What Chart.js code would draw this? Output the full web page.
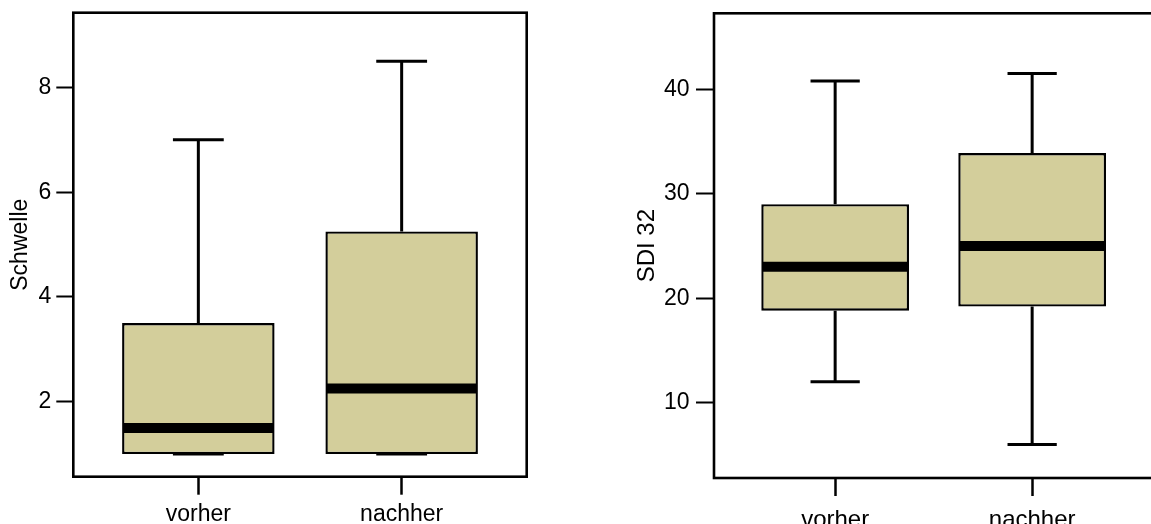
<!DOCTYPE html>
<html>
<head>
<meta charset="utf-8">
<script src="https://cdn.jsdelivr.net/npm/chart.js@4.4.0/dist/chart.umd.min.js"></script>
<style>
html,body{margin:0;padding:0;background:#fff;overflow:hidden;width:1151px;height:524px;}
canvas{position:absolute;top:0;}
#c1{left:0;}
#c2{left:590px;}
</style>
</head>
<body>
<canvas id="c1" width="576" height="524"></canvas>
<canvas id="c2" width="620" height="524"></canvas>
<script>
// ---- data ----
const categories = ['vorher', 'nachher'];

const schwelleTitle = 'Schwelle';
const schwelleMin = [1, 1];
const schwelleQ1 = [1, 1];
const schwelleMedian = [1.5, 2.25];
const schwelleQ3 = [3.5, 5.25];
const schwelleMax = [7, 8.5];
const schwelleTicks = [2, 4, 6, 8];

const sdiTitle = 'SDI 32';
const sdiMin = [12, 6];
const sdiQ1 = [18.8, 19.2];
const sdiMedian = [23, 25];
const sdiQ3 = [29, 33.9];
const sdiMax = [40.8, 41.5];
const sdiTicks = [10, 20, 30, 40];

// ---- rendering ----
const FONT = "'Liberation Sans', Arial, sans-serif";
const BOX_FILL = '#d3ce9b';

const boxPlugin = {
  id: 'boxWhiskers',
  afterDatasetsDraw(chart, args, opts) {
    const ctx = chart.ctx;
    const xs = chart.scales.x, ys = chart.scales.y;
    const meta = chart.getDatasetMeta(0);
    ctx.save();
    ctx.strokeStyle = '#000';
    opts.mins.forEach((mn, i) => {
      const cx = xs.getPixelForValue(i);
      const half = xs.getPixelForValue(i + opts.capHalf) - cx;
      const yMin = ys.getPixelForValue(mn);
      const yMax = ys.getPixelForValue(opts.maxs[i]);
      const yQ1 = ys.getPixelForValue(opts.q1s[i]);
      const yQ3 = ys.getPixelForValue(opts.q3s[i]);
      const yMed = ys.getPixelForValue(opts.meds[i]);
      ctx.lineWidth = 3;
      ctx.lineCap = 'butt';
      ctx.beginPath();
      ctx.moveTo(cx, yQ3); ctx.lineTo(cx, yMax);
      ctx.moveTo(cx, yQ1); ctx.lineTo(cx, yMin);
      ctx.moveTo(cx - half, yMax); ctx.lineTo(cx + half, yMax);
      ctx.moveTo(cx - half, yMin); ctx.lineTo(cx + half, yMin);
      ctx.stroke();
      const bar = meta.data[i];
      const w = bar.width;
      ctx.lineWidth = 10;
      ctx.beginPath();
      ctx.moveTo(bar.x - w / 2 + 1, yMed);
      ctx.lineTo(bar.x + w / 2 - 1, yMed);
      ctx.stroke();
    });
    ctx.restore();
  },
  afterDraw(chart) {
    const a = chart.chartArea, ctx = chart.ctx;
    ctx.save();
    ctx.strokeStyle = '#000';
    ctx.lineWidth = 2.6;
    ctx.strokeRect(a.left, a.top, a.right - a.left, a.bottom - a.top);
    ctx.restore();
  }
};

function zeroPad(s) {
  s.paddingTop = 0; s.paddingBottom = 0; s.paddingLeft = 0; s.paddingRight = 0;
}

function makeChart(id, title, mins, q1s, meds, q3s, maxs, ticks, yMin, yMax, L) {
  return new Chart(document.getElementById(id), {
    type: 'bar',
    data: {
      datasets: [{
        data: categories.map((c, i) => ({ x: i, y: [q1s[i], q3s[i]] })),
        backgroundColor: BOX_FILL,
        borderColor: '#000',
        borderWidth: 2.4,
        borderSkipped: false,
        categoryPercentage: 1,
        barPercentage: 0.75
      }]
    },
    options: {
      responsive: false,
      animation: false,
      devicePixelRatio: 1,
      layout: { padding: { top: L.top, right: L.right, bottom: 0, left: 0 } },
      plugins: {
        legend: { display: false },
        tooltip: { enabled: false },
        boxWhiskers: { mins, q1s, meds, q3s, maxs, capHalf: 0.125 }
      },
      scales: {
        x: {
          type: 'linear',
          offset: false,
          min: -0.615, max: 1.615,
          border: { display: false },
          grid: { offset: false, drawOnChartArea: false, drawTicks: true, tickLength: 18, tickWidth: 2.5, tickColor: '#000' },
          ticks: {
            color: '#000', font: { family: FONT, size: L.labelSize }, padding: L.xPad,
            autoSkip: false, maxRotation: 0,
            callback: (v) => categories[v]
          },
          afterBuildTicks: (s) => { s.ticks = categories.map((c, i) => ({ value: i })); },
          afterFit: (s) => { s.height = L.xHeight; zeroPad(s); }
        },
        y: {
          type: 'linear',
          min: yMin, max: yMax,
          border: { display: false },
          grid: { drawOnChartArea: false, drawTicks: true, tickLength: L.yTick, tickWidth: 2, tickColor: '#000' },
          ticks: {
            color: '#000', font: { family: FONT, size: L.tickSize }, padding: L.yPad, autoSkip: false
          },
          title: {
            display: true, text: title, color: '#000',
            font: { family: FONT, size: L.titleSize }, padding: { top: L.titlePad, bottom: 0 }
          },
          afterBuildTicks: (s) => { s.ticks = ticks.map(v => ({ value: v })); },
          afterFit: (s) => { s.width = L.yWidth; zeroPad(s); }
        }
      }
    },
    plugins: [boxPlugin]
  });
}

makeChart('c1', schwelleTitle, schwelleMin, schwelleQ1, schwelleMedian, schwelleQ3, schwelleMax,
  schwelleTicks, 0.568, 9.426,
  { top: 12.7, right: 49.3, xHeight: 47.3, yWidth: 73.3, xPad: 6, yPad: 5, yTick: 17,
    titlePad: 6.5, tickSize: 23, labelSize: 23, titleSize: 23 });

makeChart('c2', sdiTitle, sdiMin, sdiQ1, sdiMedian, sdiQ3, sdiMax,
  sdiTicks, 2.79, 47.27,
  { top: 13.3, right: 56.7, xHeight: 46, yWidth: 124, xPad: 9.5, yPad: 6.5, yTick: 18,
    titlePad: 43.1, tickSize: 23, labelSize: 24, titleSize: 24 });
</script>
</body>
</html>
